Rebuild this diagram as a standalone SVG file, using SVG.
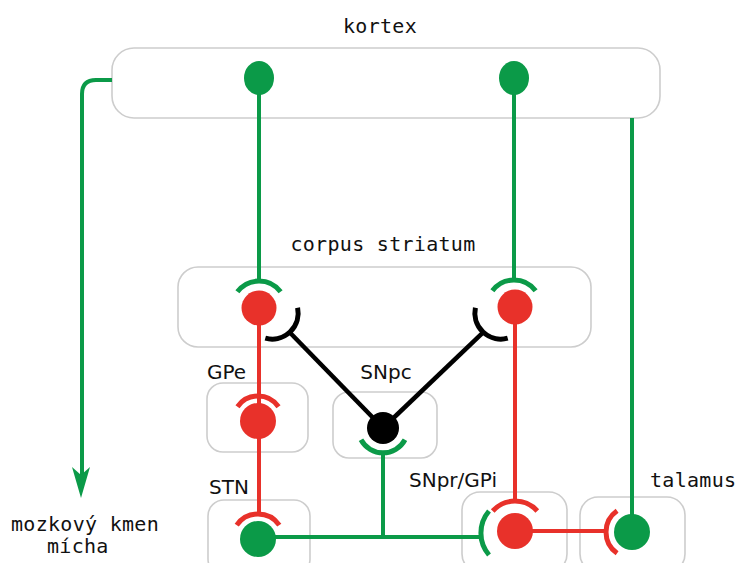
<svg xmlns="http://www.w3.org/2000/svg" width="739" height="563" viewBox="0 0 739 563">
<defs>
<style>
.box{fill:#fff;stroke:#cdcdcd;stroke-width:1.6}
.mono{font-family:"DejaVu Sans Mono","Liberation Mono",monospace;font-size:20px;letter-spacing:0.3px;fill:#111}
.sans{font-family:"DejaVu Sans","Liberation Sans",sans-serif;font-size:20px;fill:#111}
.g{stroke:#0b9a48;fill:none;stroke-width:4}
.r{stroke:#e8312a;fill:none;stroke-width:4}
.k{stroke:#000;fill:none;stroke-width:4.5}
.ga{stroke:#0b9a48;fill:none;stroke-width:5}
.ra{stroke:#e8312a;fill:none;stroke-width:5}
.ka{stroke:#000;fill:none;stroke-width:5}
.gd{fill:#0b9a48}
.rd{fill:#e8312a}
.kd{fill:#000}
</style>
</defs>
<rect width="739" height="563" fill="#fff"/>

<g id="kortex">
<rect class="box" x="112" y="48" width="548" height="70" rx="22"/>
<text class="mono" x="380" y="33" text-anchor="middle">kortex</text>
</g>
<g id="striatum">
<rect class="box" x="178" y="267" width="413" height="80" rx="20"/>
<text class="mono" x="383" y="251" text-anchor="middle">corpus striatum</text>
</g>
<g id="gpe">
<rect class="box" x="207" y="383" width="101" height="69" rx="16"/>
<text class="sans" x="207" y="379">GPe</text>
</g>
<g id="snpc">
<rect class="box" x="333" y="392" width="104" height="66" rx="16"/>
<text class="sans" x="386" y="379" text-anchor="middle">SNpc</text>
</g>
<g id="stn">
<rect class="box" x="208" y="500" width="102" height="75" rx="16"/>
<text class="sans" x="209" y="494">STN</text>
</g>
<g id="snpr">
<rect class="box" x="462" y="492" width="105" height="80" rx="18"/>
<text class="sans" x="409" y="487">SNpr/GPi</text>
</g>
<g id="talamus">
<rect class="box" x="580" y="497" width="105" height="75" rx="18"/>
<text class="mono" x="650" y="487">talamus</text>
</g>
<g id="mozkovy-kmen">
<text class="mono" x="85" y="531" text-anchor="middle">mozkový kmen</text>
<text class="mono" x="47" y="553">mícha</text>
</g>

<g id="connectors">
<!-- kortex outputs -->
<path class="g" d="M112,80 H96 Q82,80 82,94 V476"/>
<path d="M72,467 L81,498 L90,467 L81,475 Z" fill="#0b9a48"/>
<line class="g" x1="259" y1="78" x2="259" y2="282"/>
<line class="g" x1="514" y1="78" x2="514" y2="281"/>
<line class="g" x1="632" y1="118" x2="632" y2="532"/>
<!-- green synapses on striatum -->
<path class="ga" d="M237.4,291.8 A27,27 0 0 1 280.6,291.8"/>
<path class="ga" d="M492.4,290.8 A27,27 0 0 1 535.6,290.8"/>
<!-- black dopaminergic -->
<path class="ka" d="M297.6,307.8 A26,26 0 0 1 265.3,338.2"/>
<path class="ka" d="M475.4,307.8 A26,26 0 0 0 507.7,338.2"/>
<line class="k" x1="289.6" y1="332.2" x2="383" y2="428"/>
<line class="k" x1="483.4" y1="332.2" x2="383" y2="428"/>
<!-- red from striatum -->
<line class="r" x1="259" y1="308" x2="259" y2="515"/>
<line class="r" x1="515" y1="307" x2="515" y2="502"/>
<path class="ra" d="M237.5,406.7 A25,25 0 0 1 278.5,406.7"/>
<path class="ra" d="M236.7,525.1 A26,26 0 0 1 279.3,525.1"/>
<path class="ra" d="M492.7,511 A30,30 0 0 1 537.3,511"/>
<!-- SNpc green -->
<path class="ga" d="M361,439.7 A25,25 0 0 0 405,439.7"/>
<line class="g" x1="383" y1="452" x2="383" y2="537"/>
<!-- STN to SNpr -->
<line class="g" x1="258" y1="537" x2="481" y2="537"/>
<path class="ga" d="M489,511 A34,34 0 0 0 489,555"/>
<!-- SNpr to talamus -->
<line class="r" x1="515" y1="531" x2="607" y2="531"/>
<path class="ra" d="M617.1,510.7 A26,26 0 0 0 617.1,553.3"/>
</g>

<g id="neurons">
<ellipse class="gd" cx="259" cy="78" rx="15" ry="17"/>
<ellipse class="gd" cx="514" cy="78" rx="15" ry="17"/>
<circle class="rd" cx="259" cy="308" r="17.5"/>
<circle class="rd" cx="515" cy="307" r="17.5"/>
<circle class="rd" cx="258" cy="421" r="18"/>
<circle class="kd" cx="383" cy="428" r="16"/>
<circle class="gd" cx="258" cy="539" r="18"/>
<circle class="rd" cx="515" cy="531" r="18"/>
<circle class="gd" cx="632" cy="532" r="18"/>
</g>
</svg>
